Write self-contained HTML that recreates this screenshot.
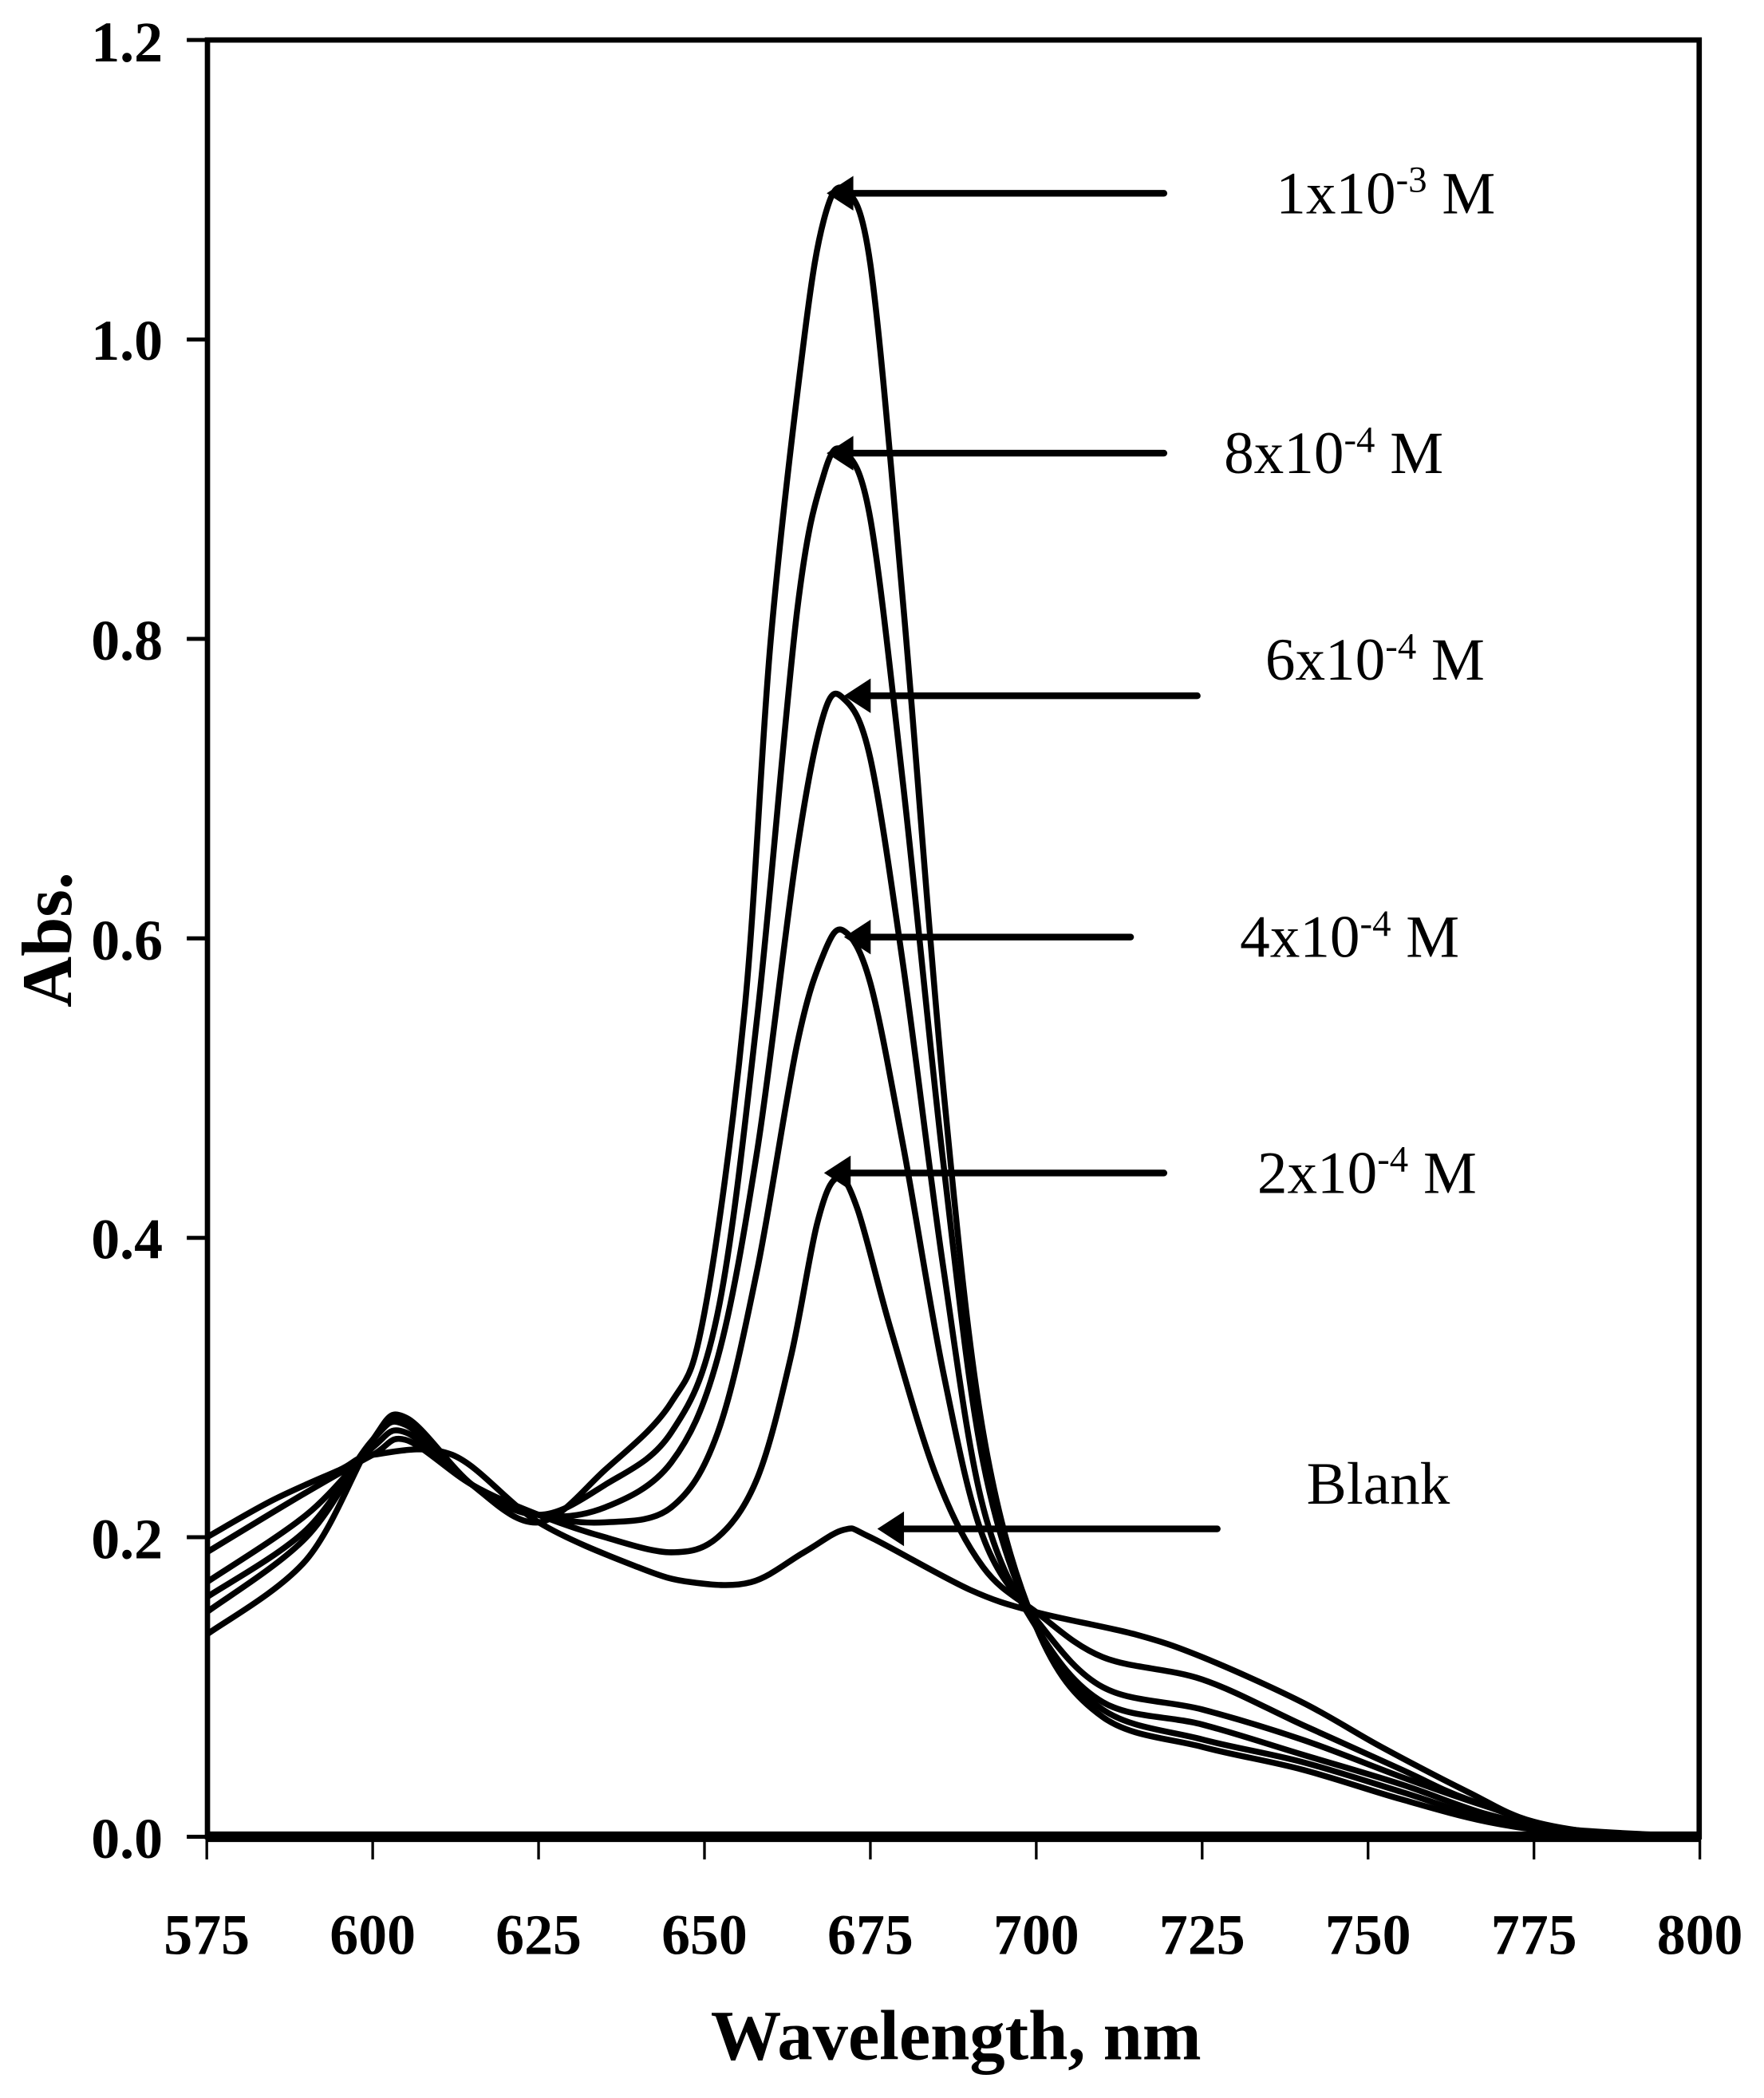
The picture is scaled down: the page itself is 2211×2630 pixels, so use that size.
<!DOCTYPE html>
<html><head><meta charset="utf-8"><style>
html,body{margin:0;padding:0;background:#fff;}
svg{display:block;}
.t{font-family:"Liberation Serif",serif;font-weight:bold;fill:#000;}
.a{font-family:"Liberation Serif",serif;fill:#000;font-size:45px;}
</style></head><body>
<svg id="s" width="2211" height="2630" viewBox="0 0 1323 1574" xmlns="http://www.w3.org/2000/svg">
<rect width="1323" height="1574" fill="#fff"/>
<g id="curves" fill="none" stroke="#000" stroke-width="4.5" stroke-linejoin="round"></g>
<rect x="155.5" y="30" width="1119" height="1348" fill="none" stroke="#000" stroke-width="4"/>
<line x1="155" y1="1378" x2="1275" y2="1378" stroke="#000" stroke-width="8"/>
<g stroke="#000" stroke-width="3">
<line x1="140" y1="30" x2="155" y2="30"/><line x1="140" y1="254.7" x2="155" y2="254.7"/>
<line x1="140" y1="479.3" x2="155" y2="479.3"/><line x1="140" y1="704" x2="155" y2="704"/>
<line x1="140" y1="928.7" x2="155" y2="928.7"/><line x1="140" y1="1153.3" x2="155" y2="1153.3"/>
<line x1="140" y1="1378" x2="155" y2="1378"/>
</g>
<g id="xt" stroke="#000" stroke-width="2"></g>
<g class="t" font-size="43" text-anchor="end">
<text x="122" y="46">1.2</text><text x="122" y="270">1.0</text><text x="122" y="495">0.8</text>
<text x="122" y="720">0.6</text><text x="122" y="944">0.4</text><text x="122" y="1169">0.2</text>
<text x="122" y="1394">0.0</text>
</g>
<g class="t" font-size="43" text-anchor="middle" id="xl"></g>
<text class="t" font-size="53" x="717" y="1545" text-anchor="middle">Wavelength, nm</text>
<text class="t" font-size="53" transform="translate(53,705) rotate(-90)" text-anchor="middle">Abs.</text>
<g stroke="#000" stroke-width="5" stroke-linecap="round">
<line x1="635" y1="145" x2="873" y2="145"/><line x1="635" y1="340" x2="873" y2="340"/>
<line x1="648" y1="522" x2="898" y2="522"/><line x1="648" y1="703" x2="848" y2="703"/>
<line x1="633" y1="880" x2="873" y2="880"/><line x1="673" y1="1147" x2="913" y2="1147"/>
</g>
<g fill="#000">
<polygon points="620,145 640,132 640,158"/><polygon points="620,340 640,327 640,353"/>
<polygon points="633,522 653,509 653,535"/><polygon points="633,703 653,690 653,716"/>
<polygon points="618,880 638,867 638,893"/><polygon points="658,1147 678,1134 678,1160"/>
</g>
<g class="a">
<text x="957" y="160">1x10<tspan font-size="28" dy="-16">-3</tspan><tspan dy="16"> M</tspan></text>
<text x="918" y="355">8x10<tspan font-size="28" dy="-16">-4</tspan><tspan dy="16"> M</tspan></text>
<text x="949" y="510">6x10<tspan font-size="28" dy="-16">-4</tspan><tspan dy="16"> M</tspan></text>
<text x="930" y="718">4x10<tspan font-size="28" dy="-16">-4</tspan><tspan dy="16"> M</tspan></text>
<text x="943" y="895">2x10<tspan font-size="28" dy="-16">-4</tspan><tspan dy="16"> M</tspan></text>
<text x="980" y="1128">Blank</text>
</g>
</svg>
<script>
var NS="http://www.w3.org/2000/svg";
function X(l){return 155+(l-575)*1120/225;}
function Y(a){return 1378-a*1348/1.2;}
var xt=document.getElementById('xt'),xl=document.getElementById('xl');
for(var l=575;l<=800;l+=25){var ln=document.createElementNS(NS,'line');ln.setAttribute('x1',X(l));ln.setAttribute('x2',X(l));ln.setAttribute('y1',1378);ln.setAttribute('y2',1395);xt.appendChild(ln);
var t=document.createElementNS(NS,'text');t.setAttribute('x',X(l));t.setAttribute('y',1466);t.textContent=l;xl.appendChild(t);}
var C=[
[[575,.2],[585,.225],[595,.245],[600,.255],[612,.255],[625,.21],[640,.18],[648,.17],[657,.17],[665,.19],[671,.205],[675,.2],[690,.165],[700,.15],[715,.135],[725,.12],[740,.09],[752,.06],[765,.03],[775,.01],[790,0],[800,0]],
[[575,.19],[590,.23],[600,.255],[605,.265],[615,.235],[625,.215],[635,.2],[645,.19],[652,.2],[658,.24],[663,.32],[667,.41],[670,.44],[673,.42],[678,.34],[685,.24],[692,.18],[700,.15],[710,.12],[725,.105],[740,.075],[755,.045],[765,.025],[780,.005],[800,0]],
[[575,.17],[590,.215],[600,.26],[605,.27],[615,.235],[625,.215],[635,.21],[645,.22],[652,.27],[658,.38],[664,.53],[668,.59],[671,.605],[675,.57],[680,.46],[686,.31],[692,.2],[700,.145],[710,.1],[725,.085],[740,.065],[755,.04],[768,.02],[780,.005],[800,0]],
[[575,.16],[590,.205],[600,.265],[605,.275],[615,.235],[625,.215],[635,.22],[645,.25],[652,.32],[658,.46],[664,.66],[668,.75],[671,.76],[675,.72],[680,.58],[686,.38],[692,.22],[700,.14],[710,.09],[725,.075],[740,.055],[755,.035],[768,.015],[780,.005],[800,0]],
[[575,.15],[590,.2],[600,.265],[605,.278],[615,.235],[625,.215],[635,.235],[645,.27],[652,.35],[658,.55],[664,.82],[668,.91],[671,.925],[675,.88],[680,.7],[686,.45],[692,.25],[700,.14],[710,.085],[725,.065],[740,.05],[755,.03],[768,.012],[780,.004],[800,0]],
[[575,.135],[590,.185],[600,.265],[605,.28],[615,.235],[625,.21],[635,.245],[645,.29],[650,.35],[656,.55],[660,.8],[665,1.0],[668,1.08],[671,1.1],[675,1.05],[680,.82],[686,.5],[692,.27],[700,.14],[710,.08],[725,.06],[740,.045],[755,.025],[768,.01],[780,.003],[800,0]]
];
var g=document.getElementById('curves');
C.forEach(function(p){
 var pts=p.map(function(q){return [X(q[0]),Y(q[1])];});
 var d="M"+pts[0][0].toFixed(1)+","+pts[0][1].toFixed(1);
 for(var i=0;i<pts.length-1;i++){
  var p0=pts[Math.max(0,i-1)],p1=pts[i],p2=pts[i+1],p3=pts[Math.min(pts.length-1,i+2)];
  var c1=[p1[0]+(p2[0]-p0[0])/6,p1[1]+(p2[1]-p0[1])/6],c2=[p2[0]-(p3[0]-p1[0])/6,p2[1]-(p3[1]-p1[1])/6];
  d+=" C"+c1[0].toFixed(1)+","+c1[1].toFixed(1)+" "+c2[0].toFixed(1)+","+c2[1].toFixed(1)+" "+p2[0].toFixed(1)+","+p2[1].toFixed(1);
 }
 var pa=document.createElementNS(NS,'path');pa.setAttribute('d',d);g.appendChild(pa);
});
</script>
</body></html>
